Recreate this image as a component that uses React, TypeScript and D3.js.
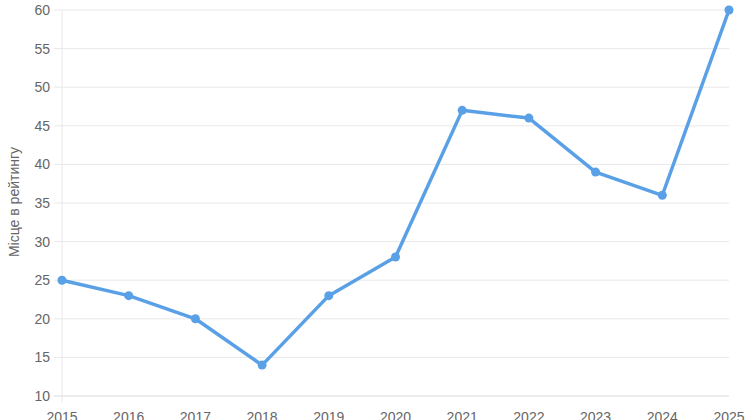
import React from "react";
import * as d3 from "d3";

const years = [2015, 2016, 2017, 2018, 2019, 2020, 2021, 2022, 2023, 2024, 2025];
const ranks = [25, 23, 20, 14, 23, 28, 47, 46, 39, 36, 60];
const yTicks = [10, 15, 20, 25, 30, 35, 40, 45, 50, 55, 60];
const yTitle = "Місце в рейтингу";

export default function App() {
  const W = 750, H = 420;
  const left = 62, right = 729, top = 10, bottom = 396;
  const x = d3.scaleLinear().domain([2015, 2025]).range([left, right]);
  const y = d3.scaleLinear().domain([10, 60]).range([bottom, top]);
  const line = d3.line<number>().x((_, i) => x(years[i])).y((d) => y(d));
  const font = "'Liberation Sans', Arial, sans-serif";
  return (
    <svg width={W} height={H} style={{ position: "absolute", left: 0, top: 0 }} fontFamily={font}>
      {yTicks.map((t) => (
        <g key={t}>
          <line x1={left - 8} x2={right} y1={y(t)} y2={y(t)} stroke={t === 10 ? "#d9d9d9" : "#e8e8e8"} strokeWidth={1} />
          <text x={50} y={y(t)} dy="0.35em" textAnchor="end" fontSize={14} fill="#666">{t}</text>
        </g>
      ))}
      <line x1={left} x2={left} y1={top} y2={bottom + 6} stroke="#e8e8e8" strokeWidth={1} />
      {years.map((yr) => (
        <g key={yr}>
          <text x={x(yr)} y={422} textAnchor="middle" fontSize={14} fill="#666">{yr}</text>
        </g>
      ))}
      <text transform={`translate(19, 202) rotate(-90)`} textAnchor="middle" fontSize={14} fill="#666">{yTitle}</text>
      <path d={line(ranks) || ""} fill="none" stroke="#5aa0e6" strokeWidth={3.5} strokeLinejoin="round" />
      {ranks.map((r, i) => (
        <circle key={i} cx={x(years[i])} cy={y(r)} r={4.5} fill="#5aa0e6" />
      ))}
    </svg>
  );
}
